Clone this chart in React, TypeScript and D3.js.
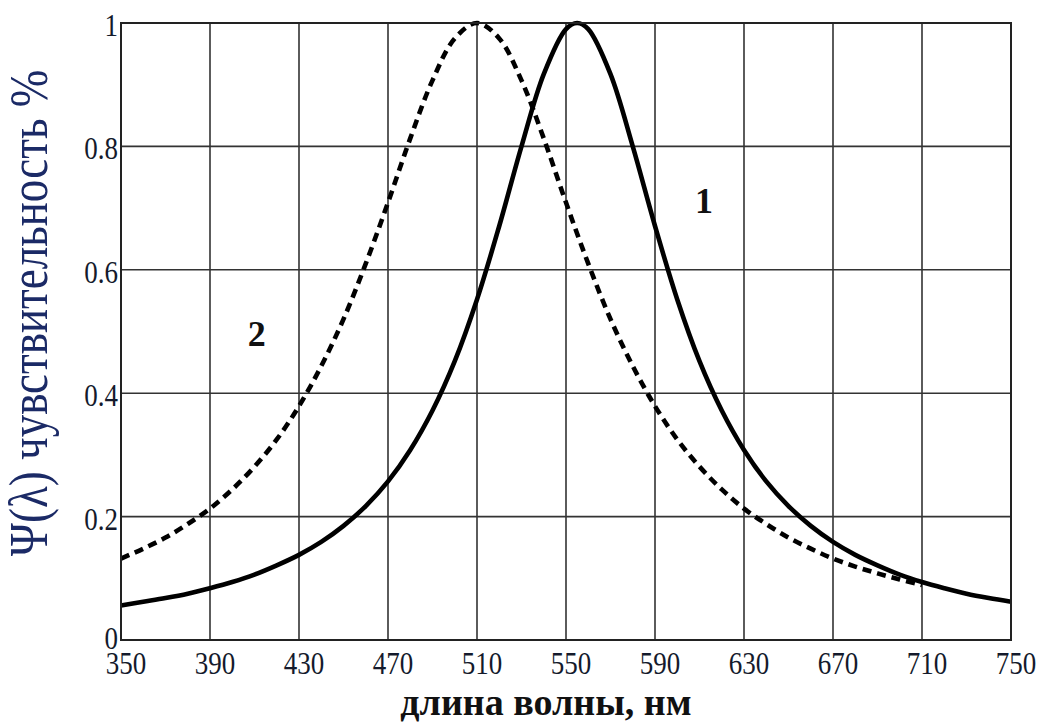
import React from "react";
import * as d3 from "d3";

// X tick labels (wavelength, nm) and Y tick labels
const xTicks = [350, 390, 430, 470, 510, 550, 590, 630, 670, 710, 750];
const yTicks = [0, 0.2, 0.4, 0.6, 0.8, 1];
const yTickLabels = ["0", "0.2", "0.4", "0.6", "0.8", "1"];

// Curve 1 (solid)
const curve1Wavelength = [
  350, 360, 370, 380, 390, 400, 410, 420, 430, 440, 450, 460, 470, 480, 490, 500,
  510, 520, 530, 540, 550, 555, 560, 570, 580, 590, 600, 610, 620, 630, 640, 650,
  660, 670, 680, 690, 700, 710, 720, 730, 740, 750,
];
const curve1Value = [
  0.056, 0.062, 0.068, 0.075, 0.084, 0.094, 0.106, 0.121, 0.138, 0.159, 0.185, 0.217,
  0.257, 0.308, 0.372, 0.452, 0.552, 0.671, 0.8, 0.917, 0.99, 1.0, 0.99, 0.917, 0.8,
  0.671, 0.552, 0.452, 0.372, 0.308, 0.257, 0.217, 0.185, 0.159, 0.138, 0.121, 0.106,
  0.094, 0.084, 0.075, 0.068, 0.062,
];

// Curve 2 (dashed)
const curve2Wavelength = [
  350, 360, 370, 380, 390, 400, 410, 420, 430, 440, 450, 460, 470, 480, 490, 500,
  510, 520, 530, 540, 550, 560, 570, 580, 590, 600, 610, 620, 630, 640, 650, 660,
  670, 680, 690, 700, 710,
];
const curve2Value = [
  0.132, 0.148, 0.166, 0.188, 0.213, 0.244, 0.281, 0.325, 0.379, 0.444, 0.52, 0.61,
  0.709, 0.813, 0.907, 0.975, 1.0, 0.975, 0.907, 0.813, 0.709, 0.61, 0.52, 0.444,
  0.379, 0.325, 0.281, 0.244, 0.213, 0.188, 0.166, 0.148, 0.132, 0.119, 0.108, 0.098,
  0.089,
];

const curveLabels = [
  { text: "1", x: 612, y: 0.71 },
  { text: "2", x: 411, y: 0.495 },
];

export default function App() {
  const W = 1042;
  const H = 722;
  const left = 121;
  const right = 1011;
  const top = 23;
  const bottom = 640;

  const x = d3.scaleLinear().domain([350, 750]).range([left, right]);
  const y = d3.scaleLinear().domain([0, 1]).range([bottom, top]);

  const line = d3
    .line<[number, number]>()
    .x((d) => x(d[0]))
    .y((d) => y(d[1]))
    .curve(d3.curveCatmullRom.alpha(0.5));

  const c1 = curve1Wavelength.map((w, i) => [w, curve1Value[i]] as [number, number]);
  const c2 = curve2Wavelength.map((w, i) => [w, curve2Value[i]] as [number, number]);

  const serif = "'Liberation Serif', 'Times New Roman', serif";
  const tickColor = "#141a2c";

  return (
    <svg
      width={W}
      height={H}
      style={{ position: "absolute", left: 0, top: 0, display: "block", background: "#fff" }}
    >
      <rect x={0} y={0} width={W} height={H} fill="#fff" />
      {/* grid */}
      {xTicks.slice(1, -1).map((t) => (
        <line key={"gx" + t} x1={x(t)} x2={x(t)} y1={top} y2={bottom} stroke="#333" strokeWidth={1.6} />
      ))}
      {yTicks.slice(1, -1).map((t) => (
        <line key={"gy" + t} x1={left} x2={right} y1={y(t)} y2={y(t)} stroke="#333" strokeWidth={1.6} />
      ))}
      {/* curves */}
      <path d={line(c1) || ""} fill="none" stroke="#000" strokeWidth={4.6} />
      <path
        d={line(c2) || ""}
        fill="none"
        stroke="#000"
        strokeWidth={4.6}
        strokeDasharray="9,6"
      />
      {/* frame */}
      <rect x={left} y={top} width={right - left} height={bottom - top} fill="none" stroke="#222" strokeWidth={2} />

      {/* x tick labels */}
      {xTicks.map((t) => (
        <text
          key={"xt" + t}
          transform={`translate(${x(t) + 5},674) scale(0.9,1.02)`}
          textAnchor="middle"
          fontFamily={serif}
          fontSize={30}
          fill={tickColor}
        >
          {t}
        </text>
      ))}
      {/* y tick labels */}
      {yTicks.map((t, i) => (
        <text
          key={"yt" + t}
          transform={`translate(${left - 3},${y(t) + (t === 0 ? 9 : 13)}) scale(0.9,1.02)`}
          textAnchor="end"
          fontFamily={serif}
          fontSize={30}
          fill={tickColor}
        >
          {yTickLabels[i]}
        </text>
      ))}

      {/* curve labels */}
      {curveLabels.map((l) => (
        <text
          key={"cl" + l.text}
          x={x(l.x)}
          y={y(l.y) + 11}
          textAnchor="middle"
          fontFamily={serif}
          fontWeight="bold"
          fontSize={36}
          fill="#111"
        >
          {l.text}
        </text>
      ))}

      {/* axis titles */}
      <text
        x={546}
        y={715}
        textAnchor="middle"
        fontFamily={serif}
        fontWeight="bold"
        fontSize={38}
        fill="#111"
      >
        длина волны, нм
      </text>
      <text
        transform="translate(47,313) rotate(-90) scale(1,1.2)"
        textAnchor="middle"
        fontFamily={serif}
        fontSize={45}
        fill="#1b2a66"
      >
        Ψ(λ) чувствительность %
      </text>
    </svg>
  );
}
